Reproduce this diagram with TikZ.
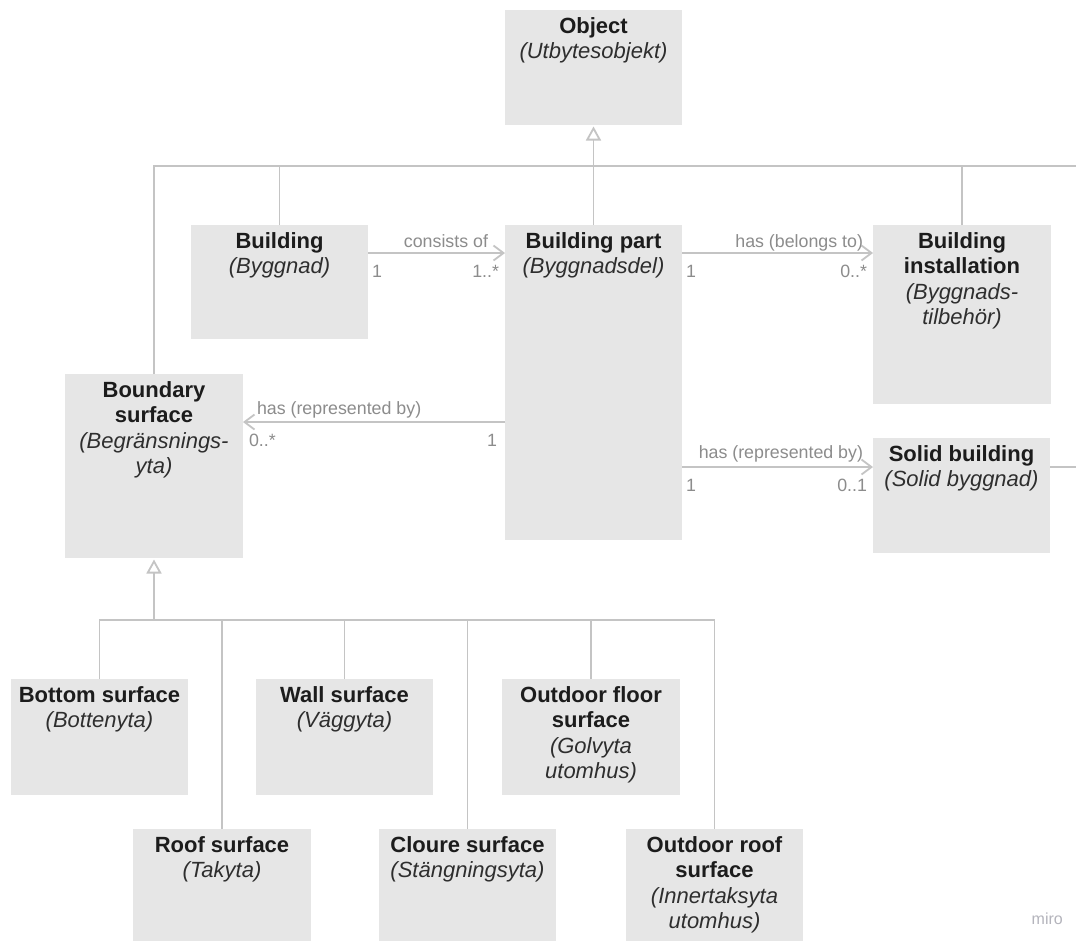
\documentclass[tikz,border=0pt]{standalone}
\usepackage{fontspec}
\setmainfont{Liberation Sans}
\usetikzlibrary{arrows.meta}

\definecolor{boxfill}{HTML}{E6E6E6}
\definecolor{wire}{HTML}{C4C4C4}
\definecolor{tagtext}{HTML}{8C8C8C}
\definecolor{headtext}{HTML}{1C1C1C}
\definecolor{subtext}{HTML}{2E2E2E}
\definecolor{brand}{HTML}{B4B4BC}

% class box body: fixed width/height, text centred and hung from the top
\newcommand{\umlcell}[3]{%
  \begin{minipage}[c][#2pt][t]{#1pt}\centering
  \fontsize{22pt}{25.3pt}\selectfont
  \rule{0pt}{23.5pt}#3\end{minipage}}
\newcommand{\hd}[1]{{\bfseries\color{headtext}#1}}
\newcommand{\swname}[1]{{\itshape\color{subtext}#1}}

\tikzset{
  umlbox/.style={anchor=north west, fill=boxfill, draw=none, inner sep=0pt, outer sep=0pt},
  wireline/.style={draw=wire, line width=1.8pt},
  genline/.style={wireline, -{Triangle[open, fill=white, length=14pt, width=15pt]}, shorten >=1.5pt},
  assoc/.style={wireline, -{Straight Barb[length=10pt, width=15pt]}},
  tag/.style={font=\fontsize{17.8pt}{20pt}\selectfont, text=tagtext, inner sep=0pt, outer sep=0pt},
}

\begin{document}
\begin{tikzpicture}[x=1pt, y=-1pt]
\fill[white] (0,0) rectangle (1076,943);
\useasboundingbox (0,0) rectangle (1076,943);

% classes
\node[umlbox] (obj)    at (505,10)  {\umlcell{177}{115}{\hd{Object}\\\swname{(Utbytesobjekt)}}};
\node[umlbox] (bld)    at (191,225) {\umlcell{177}{114}{\hd{Building}\\\swname{(Byggnad)}}};
\node[umlbox] (bpart)  at (505,225) {\umlcell{177}{315}{\hd{Building part}\\\swname{(Byggnadsdel)}}};
\node[umlbox] (binst)  at (873,225) {\umlcell{178}{179}{\hd{Building}\\\hd{installation}\\\swname{(Byggnads-}\\\swname{tilbehör)}}};
\node[umlbox] (bound)  at (65,374)  {\umlcell{178}{184}{\hd{Boundary}\\\hd{surface}\\\swname{(Begränsnings-}\\\swname{yta)}}};
\node[umlbox] (solid)  at (873,438) {\umlcell{177}{115}{\hd{Solid building}\\\swname{(Solid byggnad)}}};
\node[umlbox] (bottom) at (11,679)  {\umlcell{177}{116}{\hd{Bottom surface}\\\swname{(Bottenyta)}}};
\node[umlbox] (wall)   at (256,679) {\umlcell{177}{116}{\hd{Wall surface}\\\swname{(Väggyta)}}};
\node[umlbox] (ofloor) at (502,679) {\umlcell{178}{116}{\hd{Outdoor floor}\\\hd{surface}\\\swname{(Golvyta}\\\swname{utomhus)}}};
\node[umlbox] (roof)   at (133,829) {\umlcell{178}{112}{\hd{Roof surface}\\\swname{(Takyta)}}};
\node[umlbox] (cloure) at (379,829) {\umlcell{177}{112}{\hd{Cloure surface}\\\swname{(Stängningsyta)}}};
\node[umlbox] (oroof)  at (626,829) {\umlcell{177}{112}{\hd{Outdoor roof}\\\hd{surface}\\\swname{(Innertaksyta}\\\swname{utomhus)}}};

% generalisation to Object
\coordinate (busEnd) at (1076,166);
\draw[wireline] (bound.north) |- (busEnd);
\draw[wireline] (bld.north) -- (bld.north |- busEnd);
\draw[wireline] (binst.north) -- (binst.north |- busEnd);
\draw[genline] (bpart.north) -- (obj.south);

% generalisation to Boundary surface
\coordinate (kidRow) at (0,620);
\draw[wireline] (bottom.north) |- (oroof.north |- kidRow) -- (oroof.north);
\foreach \k in {roof,wall,cloure,ofloor}
  \draw[wireline] (\k.north) -- (\k.north |- kidRow);
\draw[genline] (bound.south |- kidRow) -- (bound.south);

% consists of
\coordinate (a1s) at ([yshift=-28pt]bld.north east);
\coordinate (a1t) at (a1s -| bpart.west);
\draw[assoc] (a1s) -- (a1t);
\node[tag, anchor=base east] (a1l) at ([xshift=-17pt, yshift=6pt]a1t) {consists of};
\node[tag, anchor=base west] (a1m) at ([xshift=4pt, yshift=-24pt]a1s) {1};
\node[tag, anchor=base east] (a1n) at ([xshift=-6pt, yshift=-24pt]a1t) {1..*};

% has (belongs to)
\coordinate (a2s) at ([yshift=-28pt]bpart.north east);
\coordinate (a2t) at (a2s -| binst.west);
\draw[assoc] (a2s) -- (a2t);
\node[tag, anchor=base east] (a2l) at ([xshift=-10pt, yshift=6pt]a2t) {has (belongs to)};
\node[tag, anchor=base west] (a2m) at ([xshift=4pt, yshift=-24pt]a2s) {1};
\node[tag, anchor=base east] (a2n) at ([xshift=-6pt, yshift=-24pt]a2t) {0..*};

% has (represented by), boundary surface
\coordinate (a3s) at ([yshift=-197pt]bpart.north west);
\coordinate (a3t) at (a3s -| bound.east);
\draw[assoc] (a3s) -- (a3t);
\node[tag, anchor=base west] (a3l) at ([xshift=14pt, yshift=8pt]a3t) {has (represented by)};
\node[tag, anchor=base east] (a3m) at ([xshift=-8pt, yshift=-24pt]a3s) {1};
\node[tag, anchor=base west] (a3n) at ([xshift=6pt, yshift=-24pt]a3t) {0..*};

% has (represented by), solid building
\coordinate (a4s) at ([yshift=-242pt]bpart.north east);
\coordinate (a4t) at (a4s -| solid.west);
\draw[assoc] (a4s) -- (a4t);
\node[tag, anchor=base east] (a4l) at ([xshift=-10pt, yshift=9pt]a4t) {has (represented by)};
\node[tag, anchor=base west] (a4m) at ([xshift=4pt, yshift=-24pt]a4s) {1};
\node[tag, anchor=base east] (a4n) at ([xshift=-6pt, yshift=-24pt]a4t) {0..1};

% outgoing line at the right edge
\coordinate (solidOut) at (1076,467);
\draw[wireline] (solidOut -| solid.east) -- (solidOut);

% watermark
\node[anchor=base east, inner sep=0pt, text=brand, font=\fontsize{16pt}{18pt}\selectfont] (mark) at (1063,924) {miro};
\end{tikzpicture}
\end{document}
